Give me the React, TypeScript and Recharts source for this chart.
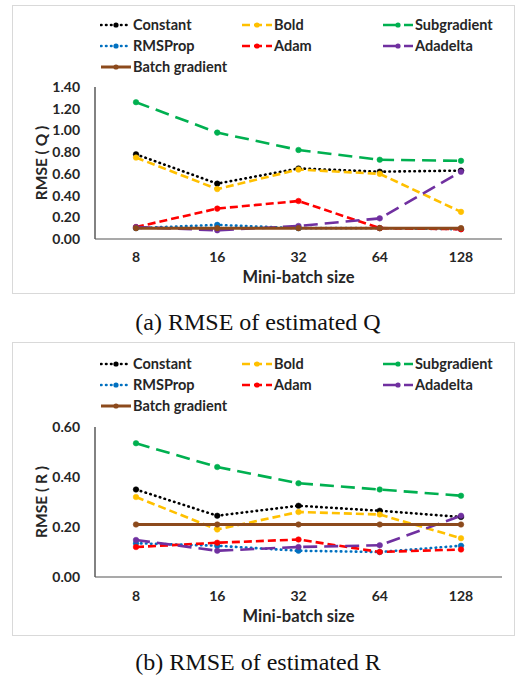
import React from "react";
import { LineChart, Line, XAxis, YAxis, Legend } from "recharts";

const SIZES = ["8", "16", "32", "64", "128"];

// RMSE of estimated Q
const constantQ = [0.78, 0.51, 0.65, 0.62, 0.63];
const boldQ = [0.75, 0.46, 0.64, 0.6, 0.25];
const subgradientQ = [1.26, 0.98, 0.82, 0.73, 0.72];
const rmspropQ = [0.1, 0.13, 0.1, 0.1, 0.09];
const adamQ = [0.11, 0.28, 0.35, 0.1, 0.09];
const adadeltaQ = [0.11, 0.08, 0.12, 0.19, 0.62];
const batchQ = [0.1, 0.1, 0.1, 0.1, 0.1];

// RMSE of estimated R
const constantR = [0.35, 0.245, 0.285, 0.265, 0.24];
const boldR = [0.32, 0.19, 0.26, 0.25, 0.155];
const subgradientR = [0.535, 0.44, 0.375, 0.35, 0.325];
const rmspropR = [0.135, 0.125, 0.105, 0.1, 0.125];
const adamR = [0.12, 0.137, 0.15, 0.1, 0.11];
const adadeltaR = [0.148, 0.105, 0.12, 0.127, 0.245];
const batchR = [0.21, 0.21, 0.21, 0.21, 0.21];

const Q_TICKS = [0, 0.2, 0.4, 0.6, 0.8, 1.0, 1.2, 1.4];
const R_TICKS = [0, 0.2, 0.4, 0.6];

const FONT = "Lato, 'Open Sans', sans-serif";
const TEXT = "#262626";

interface SeriesStyle {
  key: string;
  color: string;
  dash?: string;
  width: number;
}

const SERIES: SeriesStyle[] = [
  { key: "Constant", color: "#000000", dash: "0.5 4.5", width: 2.6 },
  { key: "Bold", color: "#FFC000", dash: "8 4", width: 2.6 },
  { key: "Subgradient", color: "#00B050", dash: "14 7", width: 2.6 },
  { key: "RMSProp", color: "#0070C0", dash: "0.5 4.5", width: 2.6 },
  { key: "Adam", color: "#FF0000", dash: "8 4", width: 2.6 },
  { key: "Adadelta", color: "#7030A0", dash: "14 7", width: 2.6 },
  { key: "Batch gradient", color: "#8C4A1C", width: 3 },
];

function buildRows(cols: number[][]) {
  return SIZES.map((size, i) => {
    const row: Record<string, string | number> = { size };
    SERIES.forEach((s, j) => {
      row[s.key] = cols[j][i];
    });
    return row;
  });
}

const dataQ = buildRows([constantQ, boldQ, subgradientQ, rmspropQ, adamQ, adadeltaQ, batchQ]);
const dataR = buildRows([constantR, boldR, subgradientR, rmspropR, adamR, adadeltaR, batchR]);

function LegendGrid() {
  return (
    <div
      style={{
        display: "grid",
        gridTemplateColumns: "141px 141px 141px",
        gridAutoRows: "21px",
        paddingLeft: 87,
        fontFamily: FONT,
        fontWeight: 700,
        fontSize: 14.5,
        color: TEXT,
      }}
    >
      {SERIES.map((s) => (
        <div key={s.key} style={{ display: "flex", alignItems: "center" }}>
          <svg width={32} height={10} style={{ marginRight: 1 }}>
            <line
              x1={1}
              y1={5}
              x2={31}
              y2={5}
              stroke={s.color}
              strokeWidth={s.width}
              strokeDasharray={s.dash}
              strokeLinecap={s.dash && s.dash.startsWith("0.5") ? "round" : "butt"}
            />
            <circle cx={16} cy={5} r={2.6} fill={s.color} />
          </svg>
          <span>{s.key}</span>
        </div>
      ))}
    </div>
  );
}

function YTitle(props: any) {
  const { viewBox, text } = props;
  const cx = viewBox.x + 28;
  const cy = viewBox.y + viewBox.height / 2;
  return (
    <text
      x={cx}
      y={cy}
      transform={`rotate(-90 ${cx} ${cy})`}
      textAnchor="middle"
      dominantBaseline="central"
      fontFamily={FONT}
      fontWeight={700}
      fontSize={15.5}
      fill={TEXT}
    >
      {text}
    </text>
  );
}

function XTitle(props: any) {
  const { viewBox, dy } = props;
  return (
    <text
      x={viewBox.x + viewBox.width / 2}
      y={viewBox.y + dy}
      textAnchor="middle"
      dominantBaseline="central"
      fontFamily={FONT}
      fontWeight={700}
      fontSize={16.5}
      fill={TEXT}
    >
      Mini-batch size
    </text>
  );
}

interface PanelProps {
  data: Record<string, string | number>[];
  ticks: number[];
  max: number;
  yTitle: string;
  height: number;
  top: number;
  axisHeight: number;
  legendTop: number;
  xTickMargin: number;
  xTitleDy: number;
}

function Panel({ data, ticks, max, yTitle, height, top, axisHeight, legendTop, xTickMargin, xTitleDy }: PanelProps) {
  return (
    <LineChart
      width={501}
      height={height}
      data={data}
      margin={{ top, right: 12, left: 0, bottom: 0 }}
    >
      <Legend
        layout="horizontal"
        align="center"
        verticalAlign="middle"
        wrapperStyle={{ top: legendTop, left: 0, width: 501 }}
        content={() => <LegendGrid />}
      />
      <XAxis
        dataKey="size"
        type="category"
        height={axisHeight}
        padding={{ left: 41, right: 41 }}
        tickLine={false}
        tickSize={0}
        tickMargin={xTickMargin}
        axisLine={{ stroke: "#8c8c8c", strokeWidth: 1.5 }}
        tick={{ fill: TEXT, fontFamily: FONT, fontWeight: 700, fontSize: 14 }}
        label={(p: any) => <XTitle {...p} dy={xTitleDy} />}
      />
      <YAxis
        type="number"
        domain={[0, max]}
        ticks={ticks}
        interval={0}
        width={82}
        tickLine={false}
        tickSize={0}
        tickMargin={15}
        axisLine={{ stroke: "#595959", strokeWidth: 1.5 }}
        tick={{ fill: TEXT, fontFamily: FONT, fontWeight: 700, fontSize: 14 }}
        tickFormatter={(v: number) => v.toFixed(2)}
        label={(p: any) => <YTitle {...p} text={yTitle} />}
      />
      {SERIES.map((s) => (
        <Line
          key={s.key}
          type="linear"
          dataKey={s.key}
          stroke={s.color}
          strokeWidth={s.width}
          strokeDasharray={s.dash}
          strokeLinecap={s.dash && s.dash.startsWith("0.5") ? "round" : "butt"}
          dot={{ r: 2.8, fill: s.color, stroke: s.color, strokeWidth: 0.5, strokeDasharray: "" }}
          isAnimationActive={false}
        />
      ))}
    </LineChart>
  );
}

const panelBox: React.CSSProperties = {
  position: "absolute",
  left: 12,
  width: 503,
  boxSizing: "border-box",
  border: "1px solid #d9d9d9",
  background: "#fff",
};

const caption: React.CSSProperties = {
  position: "absolute",
  left: 0,
  width: 516,
  textAlign: "center",
  fontFamily: "'Liberation Serif', 'Times New Roman', serif",
  fontSize: 24,
  color: "#111",
  lineHeight: "28px",
};

export default function App() {
  return (
    <div style={{ position: "absolute", left: 0, top: 0, width: 516, height: 676, background: "#fff" }}>
      <div style={{ ...panelBox, top: 5, height: 289 }}>
        <Panel
          data={dataQ}
          ticks={Q_TICKS}
          max={1.4}
          yTitle="RMSE ( Q )"
          height={287}
          top={81}
          axisHeight={54}
          legendTop={8}
          xTickMargin={13}
          xTitleDy={38}
        />
      </div>
      <div style={{ ...caption, top: 308 }}>(a) RMSE of estimated Q</div>
      <div style={{ ...panelBox, top: 342, height: 294 }}>
        <Panel
          data={dataR}
          ticks={R_TICKS}
          max={0.6}
          yTitle="RMSE ( R )"
          height={292}
          top={84}
          axisHeight={58}
          legendTop={10}
          xTickMargin={14}
          xTitleDy={39}
        />
      </div>
      <div style={{ ...caption, top: 648 }}>(b) RMSE of estimated R</div>
    </div>
  );
}
